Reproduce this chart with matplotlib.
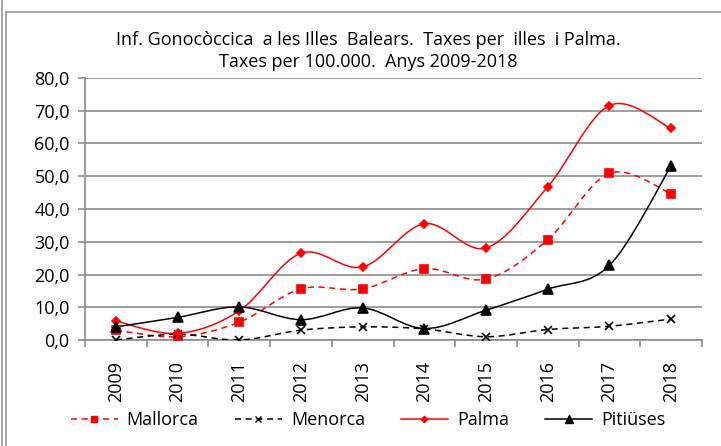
import numpy as np
import matplotlib
matplotlib.use("Agg")
import matplotlib.pyplot as plt
from matplotlib.path import Path
from matplotlib.patches import PathPatch
from matplotlib.lines import Line2D

plt.rcParams['font.family'] = ['Open Sans', 'DejaVu Sans']

years = ['2009', '2010', '2011', '2012', '2013', '2014', '2015', '2016', '2017', '2018']
mallorca = [3.0, 1.0, 5.4, 15.6, 15.6, 21.8, 18.6, 30.6, 50.9, 44.7]
menorca = [0.0, 1.8, 0.0, 3.0, 4.0, 3.4, 1.0, 3.2, 4.2, 6.4]
palma = [5.8, 2.0, 8.9, 26.5, 22.3, 35.5, 28.1, 46.8, 71.6, 64.6]
pitiuses = [4.0, 6.9, 10.1, 6.2, 9.8, 3.5, 9.1, 15.5, 22.8, 53.2]

title = "Inf. Gonocòccica  a les Illes  Balears.  Taxes per  illes  i Palma.\nTaxes per 100.000.  Anys 2009-2018"
fs = 13


def smooth_path(xs, ys):
    # Excel-style smoothed line: cubic Bezier through the points
    p = np.column_stack([xs, ys]).astype(float)
    n = len(p)
    verts = [p[0]]
    codes = [Path.MOVETO]
    for i in range(n - 1):
        p0 = p[i - 1] if i > 0 else p[i]
        p3 = p[i + 2] if i + 2 < n else p[i + 1]
        c1 = p[i] + (p[i + 1] - p0) / 6
        c2 = p[i + 1] - (p3 - p[i]) / 6
        verts += [c1, c2, p[i + 1]]
        codes += [Path.CURVE4] * 3
    return Path(verts, codes)


fig = plt.figure(figsize=(7.21, 4.46), dpi=100)
ax = fig.add_axes([85 / 721, 1 - 340 / 446, 617 / 721, 262 / 446])

x = np.arange(len(years))
series = [
    ('Mallorca', mallorca, 'red', (0, (4, 3)), 's', 5.5),
    ('Menorca', menorca, 'black', (0, (4, 3)), 'x', 5.5),
    ('Palma', palma, 'red', '-', 'D', 3.8),
    ('Pitiüses', pitiuses, 'black', '-', '^', 7),
]
handles = []
for name, vals, col, ls, mk, ms in series:
    ax.add_patch(PathPatch(smooth_path(x, vals), fill=False, edgecolor=col,
                           linestyle=ls, linewidth=1.1, zorder=3))
    ax.plot(x, vals, linestyle='none', marker=mk, color=col, markersize=ms,
            markeredgewidth=1.2, zorder=4)
    handles.append(Line2D([], [], color=col, linestyle=ls, linewidth=1.1,
                          marker=mk, markersize=ms * 0.85, markeredgewidth=1.0))

ax.set_xlim(-0.5, len(years) - 0.5)
ax.set_ylim(0, 80)
ax.set_yticks(np.arange(0, 81, 10))
ax.set_yticklabels([f"{v:.1f}".replace('.', ',') for v in np.arange(0, 81, 10)],
                   fontsize=fs)
ax.set_xticks(np.arange(-0.5, len(years), 1))
ax.set_xticklabels([])
ax.set_xticks(x, minor=True)
ax.set_xticklabels(years, minor=True, rotation=90, fontsize=fs)
ax.tick_params(axis='x', which='major', length=5, color='#8c8c8c', width=1.2)
ax.tick_params(axis='x', which='minor', length=0, pad=15)
ax.tick_params(axis='y', length=5, color='#8c8c8c', width=1.2, pad=6)

ax.grid(axis='y', color='#8c8c8c', linewidth=1.2)
ax.set_axisbelow(True)
for s in ['top', 'right']:
    ax.spines[s].set_visible(False)
for s in ['left', 'bottom']:
    ax.spines[s].set_color('#8c8c8c')
    ax.spines[s].set_linewidth(1.2)

fig.text(368 / 721, 1 - 51 / 446, title, ha='center', va='center', fontsize=fs,
         linespacing=1.25)

fig.legend(handles, [s[0] for s in series], loc='center', ncol=4,
           bbox_to_anchor=(368 / 721, 1 - 420 / 446), frameon=False,
           fontsize=fs, handlelength=2.6, columnspacing=2.0, handletextpad=0.5)

# outer frame lines
for xp in [2 / 721, 5.5 / 721]:
    fig.add_artist(Line2D([xp, xp], [0, 1 if xp < 0.004 else 1 - 12 / 446],
                          transform=fig.transFigure, color='#a0a0a0', linewidth=1.3))
fig.add_artist(Line2D([5.5 / 721, 1], [1 - 12 / 446, 1 - 12 / 446],
                      transform=fig.transFigure, color='#a0a0a0', linewidth=1.3))

fig.savefig('out.png', dpi=100)
